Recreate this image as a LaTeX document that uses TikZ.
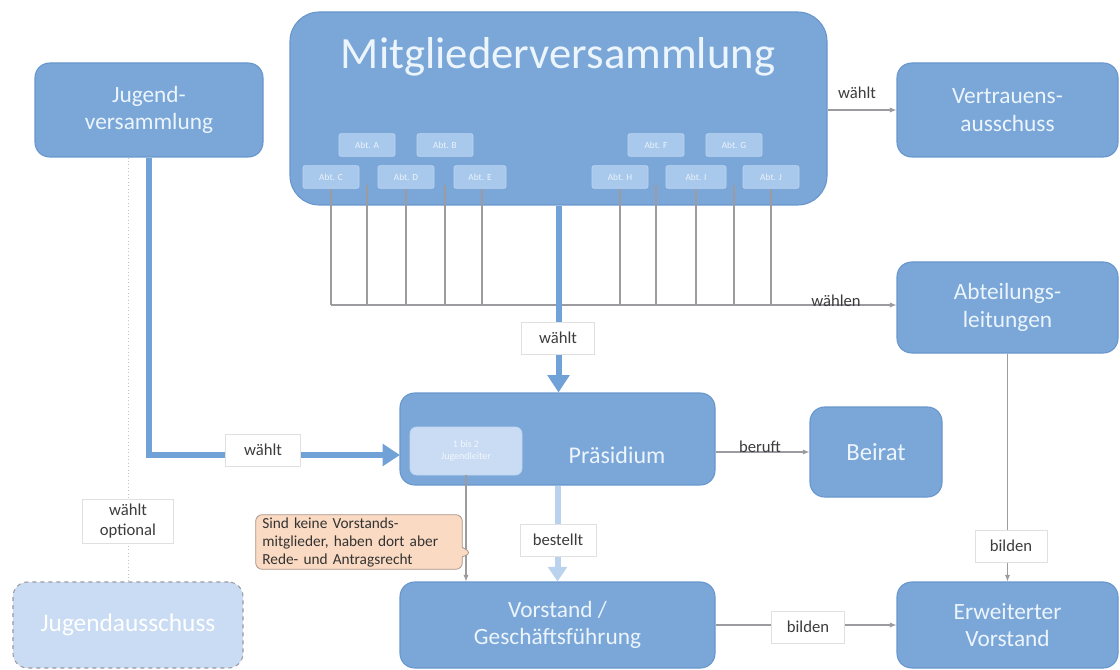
\documentclass[tikz,border=0pt]{standalone}
\usepackage{fontspec}
\setmainfont{Carlito}
\usetikzlibrary{fit,arrows.meta,shapes.callouts}
\definecolor{bx}{RGB}{122,167,216}
\definecolor{bxd}{RGB}{104,150,204}
\definecolor{bxt}{RGB}{236,244,252}
\definecolor{lite}{RGB}{201,220,243}
\definecolor{abtf}{RGB}{168,200,236}
\definecolor{abtd}{RGB}{190,214,242}
\definecolor{ln}{RGB}{155,155,160}
\definecolor{thk}{RGB}{112,162,216}
\definecolor{thkl}{RGB}{186,210,238}
\definecolor{peach}{RGB}{250,218,194}
\definecolor{peachd}{RGB}{170,150,140}
\definecolor{lbl}{RGB}{60,60,60}
\begin{document}
\begin{tikzpicture}[x=0.75pt,y=-0.75pt,
  box/.style={draw=bxd, fill=bx, rounded corners=11pt, line width=0.8pt, inner sep=0pt},
  boxtxt/.style={text=bxt, align=center, inner sep=0pt, font=\fontsize{17.5}{20.5}\selectfont},
  abtbox/.style={draw=abtd, fill=abtf, rounded corners=1.5pt, line width=0.5pt,
    minimum width=42pt, minimum height=17pt, inner sep=0pt, text=bxt, font=\fontsize{7}{8}\selectfont},
  lblbox/.style={draw=black!12, fill=white, inner sep=3pt, minimum height=24pt, text=lbl,
    align=center, font=\fontsize{12.5}{14}\selectfont},
  lbltxt/.style={text=lbl, font=\fontsize{12.5}{14}\selectfont, inner sep=1pt},
  thin arrow/.style={draw=ln, line width=0.8pt, -{Latex[length=5pt,width=4pt]}},
  abtline/.style={draw=ln, line width=0.8pt},
  thick arrow/.style={draw=thk, line width=4.5pt, -{Triangle[length=13pt,width=16pt]}},
]
\useasboundingbox (0,0) rectangle (1120,670);

% main boxes
\node[box, rounded corners=22pt, fit={(290,12)(827,205)}] (mv) {};
\node[text=bxt, font=\fontsize{33.5}{38}\selectfont, inner sep=0pt] (mvt) at (558,57) {Mitgliederversammlung};
\node[box, fit={(35,63)(263,157)}, label={[boxtxt]center:Jugend-\\versammlung}] (jv) {};
\node[box, fit={(897,63)(1118,157)}, label={[boxtxt]center:Vertrauens-\\ausschuss}] (vt) {};
\node[box, fit={(897,262)(1118,353)}, label={[boxtxt]center:Abteilungs-\\leitungen}] (al) {};
\node[box, fit={(400,393)(715,485)}] (pr) {};
\node[text=bxt, font=\fontsize{18}{21}\selectfont, inner sep=0pt] (prt) at (617,455) {Präsidium};
\node[draw=abtd, fill=lite, rounded corners=5pt, line width=0.6pt, inner sep=0pt,
  fit={(410,427)(522,475)},
  label={[align=center, inner sep=0pt, text=bxt!70!white, font=\fontsize{7.5}{9}\selectfont]center:1 bis 2\\Jugendleiter}] (ij) {};
\node[box, fit={(810,407)(942,497)}, label={[boxtxt, font=\fontsize{18.5}{21}\selectfont]center:Beirat}] (br) {};
\node[box, fit={(400,582)(715,668)}, label={[boxtxt]center:Vorstand /\\Geschäftsführung}] (vs) {};
\node[box, fit={(897,582)(1118,668)}, label={[boxtxt]center:Erweiterter\\Vorstand}] (ev) {};
\node[draw=ln, dashed, fill=lite, rounded corners=11pt, line width=0.8pt, inner sep=0pt,
  fit={(13,582)(243,668)},
  label={[text=white, inner sep=0pt, font=\fontsize{19}{22}\selectfont]center:Jugendausschuss}] (ja) {};

% Abt lines (behind Abt boxes)
\coordinate (hl) at (331,305);
\foreach \n/\x in {c/331,a/367,d/406,b/445,e/482,h/620,f/656,i/696,g/734,j/771}{
  \draw[abtline] (\x,185) -- (\x,305);
}
\node[abtbox] (abta) at (367,145) {Abt. A};
\node[abtbox] (abtb) at (445,145) {Abt. B};
\node[abtbox] (abtc) at (331,177) {Abt. C};
\node[abtbox] (abtd) at (406,177) {Abt. D};
\node[abtbox, minimum width=39pt] (abte) at (480,177) {Abt. E};
\node[abtbox] (abtf) at (656,145) {Abt. F};
\node[abtbox] (abtg) at (734,145) {Abt. G};
\node[abtbox] (abth) at (620,177) {Abt. H};
\node[abtbox, minimum width=45pt] (abti) at (696,177) {Abt. I};
\node[abtbox] (abtj) at (771,177) {Abt. J};
\draw[thin arrow] (hl) -- (hl -| al.west);
\node[lbltxt, anchor=south] (lwn) at (836,308) {wählen};

% Mitglieder -> Vertrauensausschuss
\draw[thin arrow] (mv.east |- vt.west) -- (vt.west);
\node[lbltxt, anchor=south] (lw1) at (857,100) {wählt};

% Mitglieder -> Präsidium
\draw[thick arrow] (mv.south) -- (mv.south |- pr.north);
\node[lblbox, minimum width=55pt] (lw2) at (558,338) {wählt};

% Jugendversammlung -> Präsidium
\coordinate (pin) at (400,455);
\draw[draw=thk, line width=4pt, -{Triangle[length=13pt,width=16pt]}] (jv.south) |- (pin);
\node[lblbox, minimum width=56pt] (lw3) at (263,450) {wählt};

% Jugendversammlung -> Jugendausschuss
\draw[draw=ln!60, line width=0.6pt, dotted] (ja.north |- jv.south) -- (ja.north);
\node[lblbox, minimum width=68pt, minimum height=33pt, inner sep=2pt, font=\fontsize{12.5}{15}\selectfont] (lw4) at (128,521) {wählt\\optional};

% Präsidium -> Beirat
\draw[thin arrow] (pr.east |- br.west) -- (br.west);
\node[lbltxt, anchor=south] (lbe) at (760,454) {beruft};

% Präsidium -> Vorstand
\draw[draw=thkl, line width=4.5pt, -{Triangle[length=11pt,width=14pt]}] (pr.south) -- (vs.north);
\node[lblbox, minimum width=57pt] (lbs) at (558,540) {bestellt};

% Jugendleiter -> Vorstand
\draw[thin arrow] (ij.south) -- (ij.south |- vs.north);

% callout
\node[rectangle callout, draw=peachd, fill=peach, rounded corners=5pt, line width=0.6pt,
  align=left, text=black!80, font=\fontsize{11.5}{13.5}\selectfont, inner xsep=5pt, inner ysep=1pt,
  text width=145pt, minimum height=41pt,
  callout absolute pointer={(472,553)}] (cal) at (359,542)
  {Sind keine Vorstands-\\mitglieder, haben dort aber\\Rede- und Antragsrecht};

% Abteilungsleitungen -> Erweiterter Vorstand
\draw[thin arrow] (al.south) -- (ev.north);
\node[lblbox, minimum width=54pt] (lbi1) at (1011,546) {bilden};

% Vorstand -> Erweiterter Vorstand
\draw[thin arrow] (vs.east) -- (ev.west);
\node[lblbox, minimum width=55pt] (lbi2) at (808,627) {bilden};
\end{tikzpicture}
\end{document}
